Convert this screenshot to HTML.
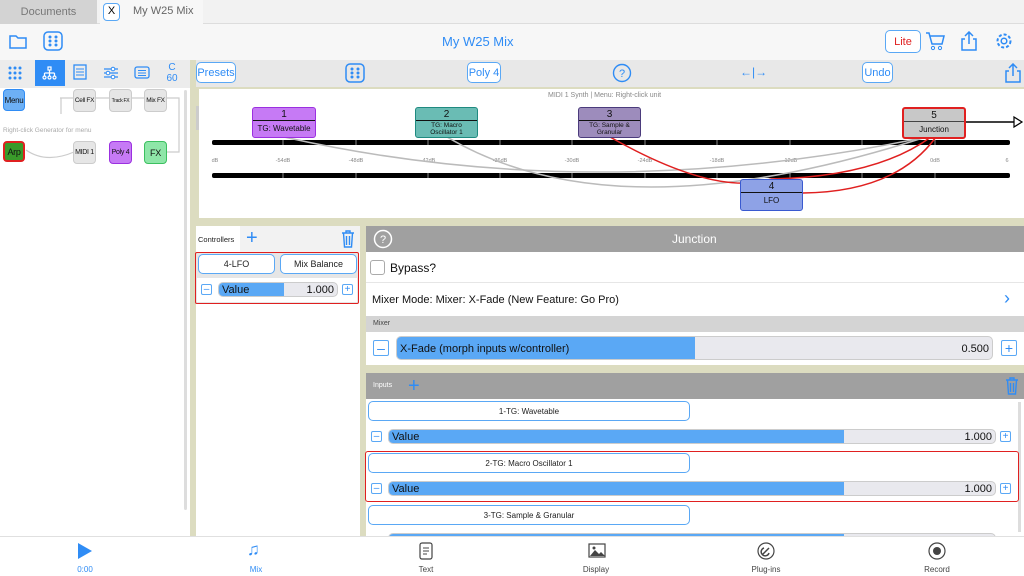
<!DOCTYPE html>
<html><head><meta charset="utf-8"><style>
*{box-sizing:border-box;margin:0;padding:0}
body{width:1024px;height:576px;overflow:hidden;font-family:"Liberation Sans",sans-serif;background:#fff;position:relative;white-space:nowrap}
.a{position:absolute}
.blue{color:#2f8cf5}
.btn{position:absolute;border:1.5px solid #5aa8f5;border-radius:5px;background:#fff;font-size:9px;color:#222;display:flex;align-items:center;justify-content:center}
.node{position:absolute;border:1.5px solid;border-radius:3px;text-align:center;font-size:8px;color:#111}
.node .t{border-bottom:1.5px solid;height:13px;line-height:13px;font-size:10px}
.lp{position:absolute;border-radius:4px;font-size:7px;color:#111;display:flex;align-items:center;justify-content:center;letter-spacing:-0.3px}
.sq{position:absolute;width:11px;height:11px;border:1.2px solid #5aa8f5;border-radius:2px;color:#2f8cf5;font-size:10px;display:flex;align-items:center;justify-content:center}
.bar{position:absolute;height:15px;border-radius:5px;background:#e9e9ee;border:1px solid #ccc;overflow:hidden;font-size:11px}
.bar .f{position:absolute;left:0;top:0;bottom:0;background:#5aa8f5}
.bar .l{position:absolute;left:3px;top:1px;color:#111}
.bar .v{position:absolute;right:3px;top:1px;color:#111}
.tab{position:absolute;top:565px;font-size:8px;color:#444;text-align:center;width:60px}
</style></head><body>
<!-- tab bar -->
<div class="a" style="left:0;top:0;width:1024px;height:24px;background:#f2f2f2;border-bottom:1px solid #ddd"></div>
<div class="a" style="left:0;top:0;width:97px;height:24px;background:#d3d3d3;color:#777;font-size:11px;text-align:center;line-height:24px">Documents</div>
<div class="a" style="left:100px;top:0;width:103px;height:24px;background:#f7f7f7"></div>
<div class="a" style="left:103px;top:3px;width:17px;height:18px;border:1.5px solid #5aa8f5;border-radius:4px;font-size:11px;text-align:center;line-height:15px;background:#fff">X</div>
<div class="a" style="left:133px;top:5px;font-size:11px;color:#666">My W25 Mix</div>
<!-- header -->
<div class="a" style="left:0;top:24px;width:1024px;height:36px;background:#f7f7f7"></div>
<svg class="a" style="left:9px;top:33px" width="18" height="16"><path d="M1 3h6l2 2h8v10H1z" fill="none" stroke="#2f8cf5" stroke-width="1.5"/></svg>
<svg class="a" style="left:43px;top:31px" width="20" height="20"><rect x="1" y="1" width="18" height="18" rx="4" fill="none" stroke="#2f8cf5" stroke-width="1.5"/><g fill="#2f8cf5"><circle cx="7" cy="6" r="1.5"/><circle cx="13" cy="6" r="1.5"/><circle cx="7" cy="10" r="1.5"/><circle cx="13" cy="10" r="1.5"/><circle cx="7" cy="14" r="1.5"/><circle cx="13" cy="14" r="1.5"/></g></svg>
<div class="a blue" style="left:442px;top:34px;font-size:13px">My W25 Mix</div>
<div class="btn" style="left:885px;top:30px;width:36px;height:23px;color:#e02020;font-size:11px">Lite</div>
<svg class="a" style="left:925px;top:31px" width="20" height="20"><path d="M1 2h3l3 11h10l2-8H5" fill="none" stroke="#2f8cf5" stroke-width="1.5"/><circle cx="8" cy="17" r="1.6" fill="none" stroke="#2f8cf5"/><circle cx="15" cy="17" r="1.6" fill="none" stroke="#2f8cf5"/></svg>
<svg class="a" style="left:961px;top:31px" width="16" height="20"><path d="M4 8H1v11h14V8h-3M8 13V1M4 5l4-4 4 4" fill="none" stroke="#2f8cf5" stroke-width="1.5"/></svg>
<svg class="a" style="left:995px;top:32px" width="18" height="18"><circle cx="9" cy="9" r="6.5" fill="none" stroke="#2f8cf5" stroke-width="2" stroke-dasharray="3 2"/><circle cx="9" cy="9" r="2.8" fill="none" stroke="#2f8cf5" stroke-width="1.5"/></svg>
<!-- left toolbar -->
<div class="a" style="left:0;top:60px;width:190px;height:28px;background:#ececec"></div>
<div class="a" style="left:35px;top:60px;width:30px;height:26px;background:#2f8cf5"></div>
<svg class="a" style="left:8px;top:66px" width="16" height="14"><g fill="#2f8cf5"><circle cx="2" cy="2" r="1.5"/><circle cx="7" cy="2" r="1.5"/><circle cx="12" cy="2" r="1.5"/><circle cx="2" cy="7" r="1.5"/><circle cx="7" cy="7" r="1.5"/><circle cx="12" cy="7" r="1.5"/><circle cx="2" cy="12" r="1.5"/><circle cx="7" cy="12" r="1.5"/><circle cx="12" cy="12" r="1.5"/></g></svg>
<svg class="a" style="left:42px;top:66px" width="16" height="14"><g fill="none" stroke="#fff" stroke-width="1.2"><rect x="6" y="1" width="3" height="3"/><path d="M7.5 4v3M2.5 7h10M2.5 7v3M7.5 7v3M12.5 7v3"/><circle cx="2.5" cy="11.5" r="1.5"/><circle cx="7.5" cy="11.5" r="1.5"/><circle cx="12.5" cy="11.5" r="1.5"/></g></svg>
<svg class="a" style="left:73px;top:64px" width="14" height="16"><rect x="1" y="1" width="12" height="14" fill="none" stroke="#2f8cf5" stroke-width="1.3"/><path d="M3 5h8M3 8h8M3 11h8" stroke="#2f8cf5"/></svg>
<svg class="a" style="left:103px;top:66px" width="16" height="14"><path d="M1 3h14M1 7h14M1 11h14" stroke="#2f8cf5" stroke-width="1.3"/><circle cx="10" cy="3" r="1.8" fill="#fff" stroke="#2f8cf5"/><circle cx="5" cy="7" r="1.8" fill="#fff" stroke="#2f8cf5"/><circle cx="10" cy="11" r="1.8" fill="#fff" stroke="#2f8cf5"/></svg>
<svg class="a" style="left:134px;top:66px" width="16" height="13"><rect x="1" y="1" width="14" height="11" rx="2" fill="none" stroke="#2f8cf5" stroke-width="1.3"/><path d="M4 4.5h8M4 7h8M4 9.5h8" stroke="#2f8cf5"/></svg>
<div class="a blue" style="left:163px;top:62px;font-size:10px;text-align:center;width:18px;line-height:11px">C<br>60</div>
<!-- left panel -->
<div class="a" style="left:190px;top:60px;width:6px;height:476px;background:#dcdcc0"></div>
<div class="a" style="left:184px;top:90px;width:3px;height:420px;background:#ddd;border-radius:2px"></div>
<svg class="a" style="left:0;top:88px" width="184" height="90"><path d="M61 26V10h118v54h-13M60 10h6" fill="none" stroke="#ccc" stroke-width="1.2"/><path d="M26 62q20 14 48 2" fill="none" stroke="#ccc" stroke-width="1.2"/></svg>
<div class="lp" style="left:3px;top:89px;width:22px;height:22px;background:#6db0f5;border:1.5px solid #2f8cf5;font-size:8px">Menu</div>
<div class="lp" style="left:73px;top:89px;width:23px;height:23px;background:#e6e6e6;border:1px solid #ccc;font-size:6.5px">Cell FX</div>
<div class="lp" style="left:109px;top:89px;width:23px;height:23px;background:#e6e6e6;border:1px solid #ccc;font-size:5px">Track FX</div>
<div class="lp" style="left:144px;top:89px;width:23px;height:23px;background:#e6e6e6;border:1px solid #ccc;font-size:6.5px">Mix FX</div>
<div class="a" style="left:3px;top:127px;font-size:6.5px;color:#aaa">Right-click Generator for menu</div>
<div class="lp" style="left:3px;top:141px;width:22px;height:21px;background:#3a9a2a;border:2px solid #e02020;font-size:9px">Arp</div>
<div class="lp" style="left:73px;top:141px;width:23px;height:23px;background:#e6e6e6;border:1px solid #ccc">MIDI 1</div>
<div class="lp" style="left:109px;top:141px;width:23px;height:23px;background:#c67af5;border:1px solid #9b30e0">Poly 4</div>
<div class="lp" style="left:144px;top:141px;width:23px;height:23px;background:#8ee6a8;border:1px solid #3cc060;font-size:9px">FX</div>
<!-- right toolbar -->
<div class="a" style="left:196px;top:60px;width:828px;height:27px;background:#e8e8e8"></div>
<div class="btn" style="left:196px;top:62px;width:40px;height:21px;font-size:11px;color:#2f8cf5">Presets</div>
<svg class="a" style="left:345px;top:63px" width="20" height="20"><rect x="1" y="1" width="18" height="18" rx="4" fill="none" stroke="#2f8cf5" stroke-width="1.5"/><g fill="#2f8cf5"><circle cx="7" cy="6" r="1.5"/><circle cx="13" cy="6" r="1.5"/><circle cx="7" cy="10" r="1.5"/><circle cx="13" cy="10" r="1.5"/><circle cx="7" cy="14" r="1.5"/><circle cx="13" cy="14" r="1.5"/></g></svg>
<div class="btn" style="left:467px;top:62px;width:34px;height:21px;font-size:11px;color:#2f8cf5">Poly 4</div>
<svg class="a" style="left:612px;top:63px" width="20" height="20"><circle cx="10" cy="10" r="8.5" fill="none" stroke="#2f8cf5" stroke-width="1.4"/><text x="10" y="14" font-size="11" text-anchor="middle" fill="#2f8cf5" font-family="Liberation Sans">?</text></svg>
<div class="a blue" style="left:740px;top:65px;font-size:12px">←|→</div>
<div class="btn" style="left:862px;top:62px;width:31px;height:21px;font-size:11px;color:#2f8cf5">Undo</div>
<svg class="a" style="left:1005px;top:63px" width="16" height="20"><path d="M4 8H1v11h14V8h-3M8 13V1M4 5l4-4 4 4" fill="none" stroke="#2f8cf5" stroke-width="1.5"/></svg>
<!-- graph -->
<div class="a" style="left:196px;top:87px;width:828px;height:140px;background:#dcdcc0"></div>
<div class="a" style="left:199px;top:89px;width:825px;height:129px;background:#fff"></div>
<div class="a" style="left:196px;top:106px;width:3px;height:24px;background:#ccc"></div>
<div class="a" style="left:548px;top:92px;font-size:7px;color:#888">MIDI 1 Synth | Menu: Right-click unit</div>
<svg class="a" style="left:196px;top:87px" width="828" height="140" font-family="Liberation Sans">
<rect x="16" y="53" width="798" height="5" rx="2" fill="#000"/>
<rect x="16" y="86" width="798" height="5" rx="2" fill="#000"/>
<g stroke="#888" stroke-width="1"><path d="M87 53v5M160 53v5M232 53v5M304 53v5M376 53v5M449 53v5M521 53v5M594 53v5M666 53v5M739 53v5M87 86v5M160 86v5M232 86v5M304 86v5M376 86v5M449 86v5M521 86v5M594 86v5M666 86v5M739 86v5"/></g>
<g font-size="5.5" fill="#888" text-anchor="middle"><text x="19" y="75">dB</text><text x="87" y="75">-54dB</text><text x="160" y="75">-48dB</text><text x="232" y="75">-42dB</text><text x="304" y="75">-36dB</text><text x="376" y="75">-30dB</text><text x="449" y="75">-24dB</text><text x="521" y="75">-18dB</text><text x="594" y="75">-12dB</text><text x="739" y="75">0dB</text><text x="811" y="75">6</text></g>
<path d="M88 50Q400 120 730 50" fill="none" stroke="#bbb" stroke-width="1.5"/>
<path d="M251 50Q420 150 730 50" fill="none" stroke="#bbb" stroke-width="1.5"/>
<path d="M414 50Q520 110 575 92" fill="none" stroke="#e02020" stroke-width="1.5"/>
<path d="M575 92Q680 90 735 50" fill="none" stroke="#e02020" stroke-width="1.5"/>
<path d="M607 106Q700 105 740 50" fill="none" stroke="#e02020" stroke-width="1.5"/>
<path d="M734 50l1 -5M736 50l5-3" stroke="#e02020" stroke-width="1.5"/>
<path d="M770 35h54" stroke="#000" stroke-width="1.5"/><path d="M818 30l8 5-8 5z" fill="#fff" stroke="#000" stroke-width="1.2"/>
</svg>
<div class="node" style="left:252px;top:107px;width:64px;height:31px;background:#c67af5;border-color:#9b30e0"><div class="t">1</div><div style="line-height:15px">TG: Wavetable</div></div>
<div class="node" style="left:415px;top:107px;width:63px;height:31px;background:#6abcb4;border-color:#1f8a80"><div class="t">2</div><div style="line-height:7px;font-size:6.5px;padding-top:1px">TG: Macro<br>Oscillator 1</div></div>
<div class="node" style="left:578px;top:107px;width:63px;height:31px;background:#9d8cbc;border-color:#4b3b7c"><div class="t">3</div><div style="line-height:7px;font-size:6.5px;padding-top:1px">TG: Sample &amp;<br>Granular</div></div>
<div class="node" style="left:902px;top:107px;width:64px;height:32px;background:#c8c8c8;border:2px solid #e02020"><div class="t" style="border-color:#444">5</div><div style="line-height:15px">Junction</div></div>
<div class="node" style="left:740px;top:179px;width:63px;height:32px;background:#8ea2e6;border-color:#3a5ad0"><div class="t">4</div><div style="line-height:16px">LFO</div></div>
<!-- controllers -->
<div class="a" style="left:196px;top:226px;width:164px;height:310px;background:#fff"></div>
<div class="a" style="left:196px;top:226px;width:164px;height:26px;background:#f2f2f2"></div>
<div class="a" style="left:196px;top:226px;width:44px;height:26px;background:#fff"></div>
<div class="a" style="left:198px;top:235px;font-size:7.5px;color:#222">Controllers</div>
<div class="a blue" style="left:246px;top:226px;font-size:20px;line-height:24px">+</div>
<svg class="a" style="left:341px;top:229px" width="14" height="19"><path d="M1 4h12M5 4V2h4v2M2.5 4l1 14h7l1-14M5.5 7v9M8.5 7v9" fill="none" stroke="#2f8cf5" stroke-width="1.4"/></svg>
<div class="a" style="left:195px;top:252px;width:164px;height:52px;border:1.5px solid #e02020;border-radius:2px;background:#e6e6e6"></div>
<div class="a" style="left:197px;top:278px;width:160px;height:24px;background:#fff"></div>
<div class="btn" style="left:198px;top:254px;width:77px;height:20px">4-LFO</div>
<div class="btn" style="left:280px;top:254px;width:77px;height:20px">Mix Balance</div>
<div class="sq" style="left:201px;top:284px">–</div>
<div class="bar" style="left:218px;top:282px;width:120px"><div class="f" style="width:65px"></div><div class="l">Value</div><div class="v">1.000</div></div>
<div class="sq" style="left:342px;top:284px">+</div>
<!-- right panel -->
<div class="a" style="left:360px;top:226px;width:6px;height:310px;background:#dcdcc0"></div>
<div class="a" style="left:366px;top:226px;width:658px;height:26px;background:#a0a0a0"></div>
<svg class="a" style="left:373px;top:229px" width="20" height="20"><circle cx="10" cy="10" r="8.5" fill="none" stroke="#fff" stroke-width="1.5"/><text x="10" y="14" font-size="11" text-anchor="middle" fill="#fff" font-family="Liberation Sans">?</text></svg>
<div class="a" style="left:672px;top:232px;font-size:12px;color:#fff">Junction</div>
<div class="a" style="left:366px;top:252px;width:658px;height:31px;background:#fff;border-bottom:1px solid #e6e6e6"></div>
<div class="a" style="left:370px;top:260px;width:15px;height:15px;border:1px solid #aaa;border-radius:3px"></div>
<div class="a" style="left:390px;top:261px;font-size:12px;color:#111">Bypass?</div>
<div class="a" style="left:366px;top:283px;width:658px;height:33px;background:#fff"></div>
<div class="a" style="left:372px;top:294px;font-size:11px;color:#111">Mixer Mode: Mixer: X-Fade (New Feature: Go Pro)</div>
<div class="a blue" style="left:1004px;top:288px;font-size:18px">›</div>
<div class="a" style="left:366px;top:316px;width:658px;height:16px;background:#d4d4d4"></div>
<div class="a" style="left:373px;top:320px;font-size:7px;color:#444">Mixer</div>
<div class="a" style="left:366px;top:332px;width:658px;height:33px;background:#fff"></div>
<div class="sq" style="left:373px;top:340px;width:16px;height:16px;font-size:14px">–</div>
<div class="bar" style="left:396px;top:336px;width:597px;height:24px;font-size:11px"><div class="f" style="width:298px"></div><div class="l" style="top:6px">X-Fade (morph inputs w/controller)</div><div class="v" style="top:6px">0.500</div></div>
<div class="sq" style="left:1001px;top:340px;width:16px;height:16px;font-size:14px">+</div>
<div class="a" style="left:366px;top:365px;width:658px;height:8px;background:#dcdcc0"></div>
<div class="a" style="left:366px;top:373px;width:658px;height:26px;background:#a0a0a0"></div>
<div class="a" style="left:373px;top:382px;font-size:7px;color:#fff">Inputs</div>
<div class="a blue" style="left:408px;top:374px;font-size:20px;line-height:24px">+</div>
<svg class="a" style="left:1005px;top:376px" width="14" height="19"><path d="M1 4h12M5 4V2h4v2M2.5 4l1 14h7l1-14M5.5 7v9M8.5 7v9" fill="none" stroke="#2f8cf5" stroke-width="1.4"/></svg>
<div class="a" style="left:366px;top:399px;width:658px;height:137px;background:#fff"></div>
<div class="a" style="left:1018px;top:402px;width:3px;height:130px;background:#ddd"></div>
<div class="btn" style="left:368px;top:401px;width:322px;height:20px;font-size:8px">1-TG: Wavetable</div>
<div class="sq" style="left:371px;top:431px">–</div>
<div class="bar" style="left:388px;top:429px;width:608px"><div class="f" style="width:455px"></div><div class="l">Value</div><div class="v">1.000</div></div>
<div class="sq" style="left:1000px;top:431px">+</div>
<div class="a" style="left:365px;top:451px;width:654px;height:51px;border:1.5px solid #e02020;border-radius:3px"></div>
<div class="btn" style="left:368px;top:453px;width:322px;height:20px;font-size:8px">2-TG: Macro Oscillator 1</div>
<div class="sq" style="left:371px;top:483px">–</div>
<div class="bar" style="left:388px;top:481px;width:608px"><div class="f" style="width:455px"></div><div class="l">Value</div><div class="v">1.000</div></div>
<div class="sq" style="left:1000px;top:483px">+</div>
<div class="btn" style="left:368px;top:505px;width:322px;height:20px;font-size:8px">3-TG: Sample &amp; Granular</div>
<div class="bar" style="left:388px;top:533px;width:608px"><div class="f" style="width:455px"></div></div>
<!-- bottom tab bar -->
<div class="a" style="left:0;top:536px;width:1024px;height:40px;background:#fff;border-top:1px solid #e0e0e0"></div>
<svg class="a" style="left:76px;top:542px" width="18" height="18"><path d="M2 1l14 8-14 8z" fill="#2f8cf5"/></svg>
<div class="tab" style="left:55px;color:#2f8cf5">0:00</div>
<div class="a blue" style="left:247px;top:540px;font-size:17px">♫</div>
<div class="tab" style="left:226px;color:#2f8cf5">Mix</div>
<svg class="a" style="left:419px;top:542px" width="14" height="18"><rect x="1" y="1" width="12" height="16" rx="2" fill="none" stroke="#444" stroke-width="1.2"/><path d="M4 6h6M4 9h6M4 12h4" stroke="#444"/></svg>
<div class="tab" style="left:396px">Text</div>
<svg class="a" style="left:588px;top:543px" width="18" height="15"><rect x="1" y="1" width="16" height="13" fill="none" stroke="#444" stroke-width="1.2"/><path d="M2 13l5-6 4 4 2-2 4 4z" fill="#444"/><circle cx="6" cy="5" r="1.5" fill="#444"/></svg>
<div class="tab" style="left:566px">Display</div>
<svg class="a" style="left:757px;top:542px" width="18" height="18"><circle cx="9" cy="9" r="8" fill="none" stroke="#444" stroke-width="1.2"/><path d="M5 13l7-7M7 6a4 4 0 1 0 5 5" fill="none" stroke="#444" stroke-width="1.5"/></svg>
<div class="tab" style="left:736px">Plug-ins</div>
<svg class="a" style="left:928px;top:542px" width="18" height="18"><circle cx="9" cy="9" r="8" fill="none" stroke="#444" stroke-width="1.2"/><circle cx="9" cy="9" r="4" fill="#444"/></svg>
<div class="tab" style="left:907px">Record</div>
</body></html>
